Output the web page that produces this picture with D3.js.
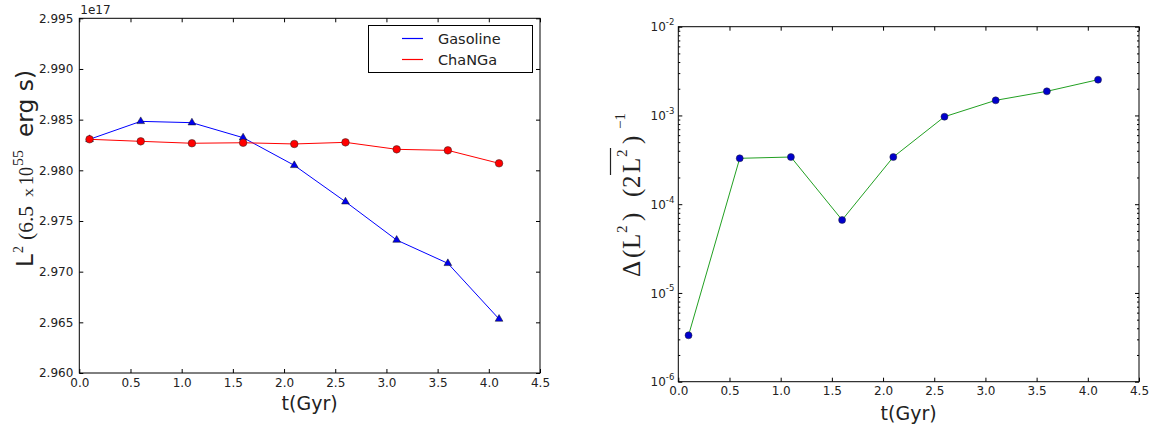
<!DOCTYPE html>
<html>
<head>
<meta charset="utf-8">
<script src="https://cdn.jsdelivr.net/npm/d3@7"></script>
<style>
  body { margin: 0; background: #fff; }
  svg { display: block; font-family: "DejaVu Sans", sans-serif; fill: #222; }
</style>
</head>
<body>
<svg id="chart" width="1168" height="434"></svg>
<script>
// Data
const times = [0.1, 0.6, 1.1, 1.6, 2.1, 2.6, 3.1, 3.6, 4.1];
const gasoline = [2.98306, 2.98483, 2.98470, 2.98322, 2.98049, 2.97690, 2.97312, 2.97082, 2.96533]; // x1e17
const changa = [2.98306, 2.98286, 2.98267, 2.98272, 2.98260, 2.98276, 2.98207, 2.98197, 2.98069];   // x1e17
const relDiff = [3.33e-6, 3.29e-4, 3.40e-4, 6.64e-5, 3.40e-4, 9.68e-4, 1.48e-3, 1.87e-3, 2.53e-3];

const xTicks = [0, 0.5, 1, 1.5, 2, 2.5, 3, 3.5, 4, 4.5];
const yTicksLeft = [2.960, 2.965, 2.970, 2.975, 2.980, 2.985, 2.990, 2.995];
const yTicksRight = [1e-6, 1e-5, 1e-4, 1e-3, 1e-2];
const seriesNames = ["Gasoline", "ChaNGa"];

const svg = d3.select("#chart");
const serif = "'Liberation Serif', 'DejaVu Serif', serif";

// Panel boxes
const P1 = {x0: 79.3, x1: 540, y0: 18.3, y1: 373};
const P2 = {x0: 678.3, x1: 1139, y0: 26.7, y1: 381.7};

function styleAxis(g) {
  g.select(".domain").remove();
  g.selectAll(".tick line").attr("stroke", "#000");
  g.attr("font-family", "DejaVu Sans").attr("font-size", 12);
  g.selectAll(".tick text").attr("fill", "#222");
}

function frame(p) {
  svg.append("rect")
    .attr("x", p.x0).attr("y", p.y0)
    .attr("width", p.x1 - p.x0).attr("height", p.y1 - p.y0)
    .attr("fill", "none").attr("stroke", "#000").attr("stroke-width", 1);
}

function xAxes(p, x) {
  svg.append("g").attr("transform", `translate(0,${p.y1})`)
    .call(d3.axisBottom(x).tickValues(xTicks).tickSize(-4).tickPadding(5).tickFormat(d3.format(".1f")))
    .call(styleAxis);
  svg.append("g").attr("transform", `translate(0,${p.y0})`)
    .call(d3.axisTop(x).tickValues(xTicks).tickSize(-4).tickFormat(""))
    .call(styleAxis);
}

// ---------- Left panel ----------
const x1 = d3.scaleLinear().domain([0, 4.5]).range([P1.x0, P1.x1]);
const y1 = d3.scaleLinear().domain([2.960, 2.995]).range([P1.y1, P1.y0]);

xAxes(P1, x1);
svg.append("g").attr("transform", `translate(${P1.x0},0)`)
  .call(d3.axisLeft(y1).tickValues(yTicksLeft).tickSize(-4).tickPadding(6).tickFormat(d3.format(".3f")))
  .call(styleAxis);
svg.append("g").attr("transform", `translate(${P1.x1},0)`)
  .call(d3.axisRight(y1).tickValues(yTicksLeft).tickSize(-4).tickFormat(""))
  .call(styleAxis);

const line1 = d3.line().x((d, i) => x1(times[i])).y(d => y1(d));

svg.append("path").datum(gasoline)
  .attr("d", line1).attr("fill", "none").attr("stroke", "#0000ff").attr("stroke-width", 1);
svg.append("path").datum(changa)
  .attr("d", line1).attr("fill", "none").attr("stroke", "#ff0000").attr("stroke-width", 1);

svg.append("g").selectAll("path")
  .data(gasoline).enter().append("path")
  .attr("transform", (d, i) => `translate(${x1(times[i])},${y1(d)})`)
  .attr("d", d3.symbol(d3.symbolTriangle, 26))
  .attr("fill", "#0000ee").attr("stroke", "#111").attr("stroke-width", 0.5);

svg.append("g").selectAll("circle")
  .data(changa).enter().append("circle")
  .attr("cx", (d, i) => x1(times[i])).attr("cy", d => y1(d))
  .attr("r", 3.8)
  .attr("fill", "#ff0000").attr("stroke", "#222").attr("stroke-width", 0.5);

frame(P1);

// offset text
svg.append("text").attr("x", P1.x0 + 1).attr("y", 14).attr("font-size", 12).attr("fill", "#222").text("1e17");

// legend
const leg = svg.append("g");
leg.append("rect").attr("x", 368.5).attr("y", 25.5).attr("width", 164).attr("height", 47)
  .attr("fill", "#fff").attr("stroke", "#000").attr("stroke-width", 1);
const legendColors = ["#0000ff", "#ff0000"];
const legendRows = [38.5, 59.5];
legendRows.forEach((yy, i) => {
  leg.append("line").attr("x1", 402).attr("x2", 423).attr("y1", yy).attr("y2", yy)
    .attr("stroke", legendColors[i]).attr("stroke-width", 1.2);
  leg.append("text").attr("x", 438).attr("y", yy + 5).attr("font-size", 14.5).attr("fill", "#222")
    .text(seriesNames[i]);
});

// axis labels
svg.append("text").attr("x", (P1.x0 + P1.x1) / 2).attr("y", 410)
  .attr("text-anchor", "middle").attr("font-size", 19).attr("fill", "#222").text("t(Gyr)");

// rotated y label, left: local x runs up the page from y=267
const yl1 = svg.append("text")
  .attr("transform", "translate(33,267) rotate(-90)")
  .attr("font-size", 23).attr("fill", "#222");
yl1.append("tspan").attr("x", 0).text("L");
yl1.append("tspan").attr("x", 14).attr("dy", -10).attr("font-size", 14).style("font-family", serif).text("2");
yl1.append("tspan").attr("x", 27).attr("dy", 10).attr("font-size", 22).style("font-family", serif)
  .attr("textLength", 34).attr("lengthAdjust", "spacingAndGlyphs").text("(6.5");
yl1.append("tspan").attr("x", 70).attr("font-size", 15).style("font-family", serif)
  .attr("textLength", 9).attr("lengthAdjust", "spacingAndGlyphs").text("x");
yl1.append("tspan").attr("x", 82).attr("font-size", 21).style("font-family", serif)
  .attr("textLength", 18).attr("lengthAdjust", "spacingAndGlyphs").text("10");
yl1.append("tspan").attr("x", 101).attr("dy", -10).attr("font-size", 14).style("font-family", serif)
  .attr("textLength", 16).attr("lengthAdjust", "spacingAndGlyphs").text("55");
yl1.append("tspan").attr("x", 130).attr("dy", 10)
  .attr("textLength", 67).attr("lengthAdjust", "spacingAndGlyphs").text("erg s)");

// ---------- Right panel ----------
const x2 = d3.scaleLinear().domain([0, 4.5]).range([P2.x0, P2.x1]);
const y2 = d3.scaleLog().domain([1e-6, 1e-2]).range([P2.y1, P2.y0]);
const minorTicks = y2.ticks().filter(v => !yTicksRight.some(m => Math.abs(v / m - 1) < 1e-9));

xAxes(P2, x2);
svg.append("g").attr("transform", `translate(${P2.x0},0)`)
  .call(d3.axisLeft(y2).tickValues(yTicksRight).tickSize(-4).tickPadding(4).tickFormat(""))
  .call(styleAxis)
  .call(g => g.selectAll(".tick text").each(function(d) {
    const t = d3.select(this);
    t.attr("dy", "0.35em");
    t.append("tspan").text("10");
    t.append("tspan").attr("font-size", 8.5).attr("dy", "-0.75em").text(Math.round(Math.log10(d)));
  }));
svg.append("g").attr("transform", `translate(${P2.x0},0)`)
  .call(d3.axisLeft(y2).tickValues(minorTicks).tickSize(-2).tickFormat(""))
  .call(styleAxis);
svg.append("g").attr("transform", `translate(${P2.x1},0)`)
  .call(d3.axisRight(y2).tickValues(yTicksRight).tickSize(-4).tickFormat(""))
  .call(styleAxis);
svg.append("g").attr("transform", `translate(${P2.x1},0)`)
  .call(d3.axisRight(y2).tickValues(minorTicks).tickSize(-2).tickFormat(""))
  .call(styleAxis);

svg.append("path").datum(relDiff)
  .attr("d", d3.line().x((d, i) => x2(times[i])).y(d => y2(d)))
  .attr("fill", "none").attr("stroke", "#22a022").attr("stroke-width", 1);

svg.append("g").selectAll("circle")
  .data(relDiff).enter().append("circle")
  .attr("cx", (d, i) => x2(times[i])).attr("cy", d => y2(d))
  .attr("r", 3.5)
  .attr("fill", "#0000cc").attr("stroke", "#223").attr("stroke-width", 0.5);

frame(P2);

svg.append("text").attr("x", (P2.x0 + P2.x1) / 2).attr("y", 420)
  .attr("text-anchor", "middle").attr("font-size", 19).attr("fill", "#222").text("t(Gyr)");

// rotated y label, right: local x runs up the page from y=277
const g2 = svg.append("g").attr("transform", "translate(640,277) rotate(-90)");
const yl2 = g2.append("text").style("font-family", serif).attr("font-size", 25).attr("fill", "#222");
yl2.append("tspan").attr("x", 0).text("\u0394");
yl2.append("tspan").attr("x", 19).text("(");
yl2.append("tspan").attr("x", 28).text("L");
yl2.append("tspan").attr("x", 44).attr("dy", -13).attr("font-size", 15).text("2");
yl2.append("tspan").attr("x", 56).attr("dy", 13).text(")");
yl2.append("tspan").attr("x", 80).text("(");
yl2.append("tspan").attr("x", 89).text("2");
yl2.append("tspan").attr("x", 104).text("L");
yl2.append("tspan").attr("x", 120).attr("dy", -13).attr("font-size", 15).text("2");
yl2.append("tspan").attr("x", 133).attr("dy", 13).text(")");
yl2.append("tspan").attr("x", 148).attr("dy", -15).attr("font-size", 15).text("\u22121");
g2.append("line").attr("x1", 102).attr("x2", 129).attr("y1", -29.5).attr("y2", -29.5)
  .attr("stroke", "#222").attr("stroke-width", 1.2);
</script>
</body>
</html>
